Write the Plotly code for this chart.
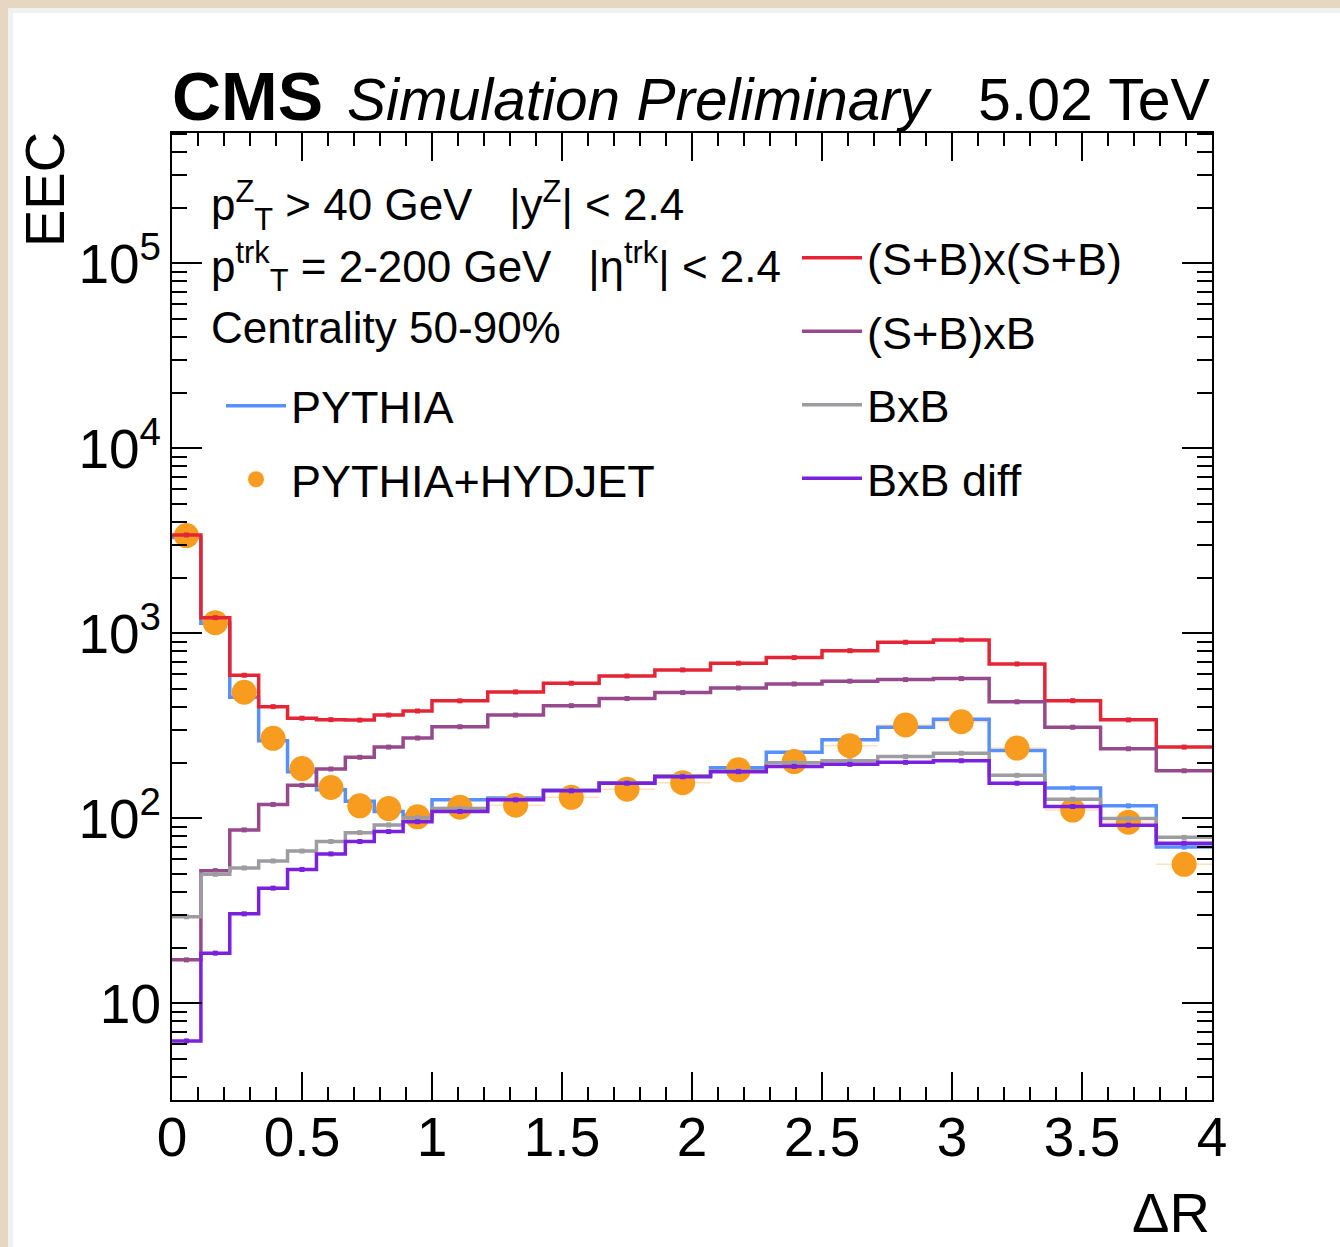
import plotly.graph_objects as go

# ---------------- data ----------------
bin_edges = [0.0, 0.1111, 0.2222, 0.3333, 0.4444, 0.5556, 0.6667, 0.7778, 0.8889, 1.0,
             1.2143, 1.4286, 1.6429, 1.8571, 2.0714, 2.2857, 2.5, 2.7143, 2.9286,
             3.1429, 3.3571, 3.5714, 3.7857, 4.0]

pythia = [3300, 1135, 452, 263, 179, 143, 124, 109, 104, 126, 129, 142, 155, 170,
          188, 228, 266, 311, 344, 233, 146, 117, 70]
pythia_hydjet = [3380, 1143, 481, 271, 186, 147, 117, 113, 102, 115, 118, 130, 144,
                 156, 183, 203, 247, 320, 333, 240, 111, 95.5, 56.5]
sb_x_sb = [3406, 1217, 594, 402, 348, 342, 340, 362, 381, 432, 483, 538, 589, 635,
           690, 740, 807, 896, 922, 684, 433, 341, 243]
sb_x_b = [17.2, 52.2, 86.7, 119, 151, 185, 214, 243, 272, 313, 362, 407, 445, 479,
          507, 533, 552, 563, 570, 427, 311, 238, 181]
b_x_b = [29.4, 49.9, 54, 58.9, 66.6, 75, 83.8, 92.2, 101, 113, 127, 142, 156, 170,
         181, 200, 205, 216, 225, 171, 127, 99.8, 79]
b_x_b_diff = [6.27, 18.7, 30.5, 42, 53, 64.3, 75, 84.9, 96, 109, 126, 141, 155, 168,
              179, 191, 196, 201, 205, 155, 116, 92, 73.5]

x_tick_vals = [0, 0.5, 1, 1.5, 2, 2.5, 3, 3.5, 4]
x_tick_text = ["0", "0.5", "1", "1.5", "2", "2.5", "3", "3.5", "4"]
y_tick_vals = [10, 100, 1000, 10000, 100000]
y_tick_text = ["10", "10<sup>2</sup>", "10<sup>3</sup>", "10<sup>4</sup>", "10<sup>5</sup>"]

C_BLUE = "#5790fc"
C_ORANGE = "#f89c20"
C_RED = "#e42536"
C_MAUVE = "#964a8b"
C_GRAY = "#9c9ca1"
C_VIOLET = "#7a21dd"

FONT = "Liberation Sans, Arial, Helvetica, sans-serif"

centers = [(a + b) / 2 for a, b in zip(bin_edges[:-1], bin_edges[1:])]
half_w = [(b - a) / 2 for a, b in zip(bin_edges[:-1], bin_edges[1:])]

fig = go.Figure()


def add_hist(values, color, name, legend):
    fig.add_trace(go.Scatter(
        x=bin_edges, y=list(values) + [values[-1]], mode="lines",
        line=dict(color=color, width=3.5, shape="hv"),
        name=name, legend=legend, legendgroup=name,
    ))


def add_dots(values, color):
    fig.add_trace(go.Scatter(
        x=centers, y=values, mode="markers",
        marker=dict(color=color, size=5, symbol="square"),
        showlegend=False, hoverinfo="skip",
    ))


# PYTHIA (below the points)
add_hist(pythia, C_BLUE, "PYTHIA", "legend")
add_dots(pythia, C_BLUE)

# PYTHIA+HYDJET points
fig.add_trace(go.Scatter(
    x=centers, y=pythia_hydjet, mode="markers",
    marker=dict(color=C_ORANGE, size=25, symbol="circle"),
    error_x=dict(type="data", array=half_w, color="rgba(248,156,32,0.3)",
                 thickness=1.5, width=0),
    name="PYTHIA+HYDJET", legend="legend", legendgroup="PYTHIA+HYDJET",
))

add_hist(sb_x_sb, C_RED, "(S+B)x(S+B)", "legend2")
add_dots(sb_x_sb, C_RED)
add_hist(sb_x_b, C_MAUVE, "(S+B)xB", "legend2")
add_dots(sb_x_b, C_MAUVE)
add_hist(b_x_b, C_GRAY, "BxB", "legend2")
add_dots(b_x_b, C_GRAY)
add_hist(b_x_b_diff, C_VIOLET, "BxB diff", "legend2")
add_dots(b_x_b_diff, C_VIOLET)

# ---------------- layout ----------------
L, R, T, B = 172, 128, 133, 147
W, H = 1340, 1247
PW, PH = W - L - R, H - T - B


def px_x(px):
    return (px - L) / PW


def px_y(py):
    return (H - B - py) / PH


minor_y = [m * 10 ** k for k in range(0, 6) for m in range(2, 10)]

fig.update_layout(
    width=W, height=H,
    margin=dict(l=L, r=R, t=T, b=B),
    paper_bgcolor="#e6d6c2",
    plot_bgcolor="white",
    font=dict(family=FONT, color="black"),
    showlegend=True,
    legend=dict(
        x=px_x(221), y=px_y(370), xanchor="left", yanchor="top",
        bgcolor="rgba(0,0,0,0)", font=dict(size=45, family=FONT),
        tracegroupgap=12, itemwidth=60,
    ),
    legend2=dict(
        x=px_x(797), y=px_y(222), xanchor="left", yanchor="top",
        bgcolor="rgba(0,0,0,0)", font=dict(size=45, family=FONT),
        tracegroupgap=12, itemwidth=60,
    ),
    xaxis=dict(
        range=[0, 4], showgrid=False, zeroline=False,
        showline=True, linecolor="black", linewidth=2, mirror="ticks",
        ticks="inside", ticklen=28, tickwidth=1.5, tickcolor="black",
        tickmode="array", tickvals=x_tick_vals, ticktext=x_tick_text,
        tickfont=dict(size=55, family=FONT), ticklabelstandoff=-12,
        minor=dict(ticks="inside", ticklen=13, dtick=0.1, tickwidth=1.5,
                   tickcolor="black", showgrid=False),
    ),
    yaxis=dict(
        type="log", range=[0.478, 5.705], showgrid=False, zeroline=False,
        showline=True, linecolor="black", linewidth=2, mirror="ticks",
        ticks="inside", ticklen=30, tickwidth=1.5, tickcolor="black",
        tickmode="array", tickvals=y_tick_vals, ticktext=y_tick_text,
        tickfont=dict(size=55, family=FONT), ticklabelstandoff=-2,
        minor=dict(ticks="inside", ticklen=15, tickmode="array", tickvals=minor_y,
                   tickwidth=1.5, tickcolor="black", showgrid=False),
    ),
    shapes=[
        dict(type="rect", xref="paper", yref="paper", layer="below",
             x0=px_x(8), x1=px_x(W + 5), y0=px_y(H + 5), y1=px_y(8),
             fillcolor="#eef3f1", line=dict(width=0)),
        dict(type="rect", xref="paper", yref="paper", layer="below",
             x0=px_x(13), x1=px_x(W + 5), y0=px_y(H + 5), y1=px_y(13),
             fillcolor="white", line=dict(width=0)),
    ],
)

ann = []


def text(px, py, s, size, xanchor="left", yanchor="middle", angle=0):
    ann.append(dict(x=px_x(px), y=px_y(py), xref="paper", yref="paper", text=s,
                    showarrow=False, xanchor=xanchor, yanchor=yanchor, align="left",
                    textangle=angle, font=dict(size=size, family=FONT, color="black")))


NB = "\u00a0"
# header
text(170, 96, "<b>CMS</b>", 68)
text(345, 100, "<i>Simulation Preliminary</i>", 58.5)
text(1212, 100, "5.02 TeV", 59, xanchor="right")
# axis titles
text(45, 190, "EEC", 56, xanchor="center", angle=-90)
text(1212, 1212, "\u0394R", 56, xanchor="right")

# selection text (three lines, spaced like the reference)
BIG = '<span style="font-size:44px">'
E = "</span>"
block = (
    BIG + "p<sup>Z</sup><sub>T</sub> > 40 GeV" + NB * 3 + "|y<sup>Z</sup>| < 2.4" + E + "<br>"
    + BIG + "p<sup>trk</sup><sub>T</sub> = 2-200 GeV" + NB * 3
    + "|\u03b7<sup>trk</sup>| < 2.4" + E + "<br>"
    + BIG + "Centrality 50-90%" + E
)
text(209, 172, block, 47, yanchor="top")

fig.update_layout(annotations=ann)

fig.write_html("out.html")
